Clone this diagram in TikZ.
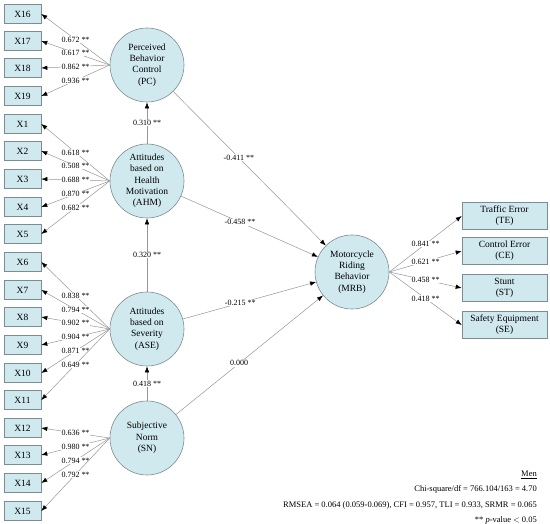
\documentclass[tikz,border=0pt]{standalone}
\usepackage{fontspec}
\setmainfont{Liberation Serif}
\usetikzlibrary{arrows.meta}
\definecolor{fillblue}{RGB}{207,233,239}
\definecolor{edgegray}{RGB}{125,140,145}
\definecolor{linegray}{RGB}{150,150,150}
\tikzset{
  ind/.style={draw=edgegray, fill=fillblue, line width=0.6pt, minimum width=37pt, minimum height=19pt, inner sep=0pt, font=\fontsize{9.5}{11}\selectfont},
  lat/.style={draw=edgegray, fill=fillblue, line width=0.6pt, circle, minimum size=74pt, inner sep=0pt, align=center, font=\fontsize{9.5}{11.3}\selectfont},
  dim/.style={draw=edgegray, fill=fillblue, line width=0.6pt, minimum width=85pt, minimum height=27pt, inner sep=0pt, align=center, font=\fontsize{9.5}{11}\selectfont},
  conn/.style={draw=linegray, line width=0.5pt, -{Latex[color=black,length=6pt,width=4.5pt]}},
  lab/.style={fill=white, inner sep=0.6pt, font=\fontsize{8}{9}\selectfont, text=black},
  fitline/.style={anchor=base east, inner sep=0pt, font=\fontsize{8.5}{10}\selectfont},
}
\begin{document}
\begin{tikzpicture}[x=1pt,y=-1pt]
\useasboundingbox (0,0) rectangle (550,524);
% latent variables
\node[lat] (PC)  at (147,65)  {Perceived\\Behavior\\Control\\(PC)};
\node[lat] (AHM) at (147,181) {Attitudes\\based on\\Health\\Motivation\\(AHM)};
\node[lat] (ASE) at (147,329) {Attitudes\\based on\\Severity\\(ASE)};
\node[lat] (SN)  at (147,438) {Subjective\\Norm\\(SN)};
\node[lat] (MRB) at (352,272) {Motorcycle\\Riding\\Behavior\\(MRB)};
% indicators
\foreach \n/\y in {16/14,17/41,18/68,19/96,1/124,2/151,3/179,4/207,5/234,6/262,7/290,8/317,9/345,10/373,11/400,12/428,13/455,14/483,15/511}{
  \node[ind] (X\n) at (22.5,\y) {X\n};
}
% dimensions
\node[dim] (TE) at (504.5,216) {Traffic Error\\(TE)};
\node[dim] (CE) at (504.5,251) {Control Error\\(CE)};
\node[dim] (ST) at (504.5,288) {Stunt\\(ST)};
\node[dim] (SE) at (504.5,325) {Safety Equipment\\(SE)};
% loadings
\foreach \n/\v in {16/0.672,17/0.617,18/0.862,19/0.936}{
  \draw[conn] (PC.west) -- node[lab]{\v\ **} (X\n.east);
}
\foreach \n/\v in {1/0.618,2/0.508,3/0.688,4/0.870,5/0.682}{
  \draw[conn] (AHM.west) -- node[lab]{\v\ **} (X\n.east);
}
\foreach \n/\v in {6/0.838,7/0.794,8/0.902,9/0.904,10/0.871,11/0.649}{
  \draw[conn] (ASE.west) -- node[lab]{\v\ **} (X\n.east);
}
\foreach \n/\v in {12/0.636,13/0.980,14/0.794,15/0.792}{
  \draw[conn] (SN.west) -- node[lab]{\v\ **} (X\n.east);
}
% structural paths
\draw[conn] (AHM) -- node[lab]{0.310 **} (PC);
\draw[conn] (ASE) -- node[lab]{0.320 **} (AHM);
\draw[conn] (SN) -- node[lab]{0.418 **} (ASE);
\draw[conn] (PC) -- node[lab,pos=0.43]{-0.411 **} (MRB);
\draw[conn] (AHM) -- node[lab,pos=0.43]{-0.458 **} (MRB);
\draw[conn] (ASE) -- node[lab,pos=0.43]{-0.215 **} (MRB);
\draw[conn] (SN) -- node[lab,pos=0.43]{0.000} (MRB);
% MRB to dimensions
\draw[conn] (MRB.east) -- node[lab]{0.841 **} (TE.west);
\draw[conn] (MRB.east) -- node[lab]{0.621 **} (CE.west);
\draw[conn] (MRB.east) -- node[lab]{0.458 **} (ST.west);
\draw[conn] (MRB.east) -- node[lab]{0.418 **} (SE.west);
% fit statistics
\node[fitline] (men) at (537,476.5) {\underline{Men}};
\node[fitline] (chi) at (537,492) {Chi-square/df = 766.104/163 = 4.70};
\node[fitline] (rmsea) at (537,507.5) {RMSEA = 0.064 (0.059-0.069), CFI = 0.957, TLI = 0.933, SRMR = 0.065};
\node[fitline] (pval) at (537,522) {** \textit{p}-value $<$ 0.05};
\end{tikzpicture}
\end{document}
